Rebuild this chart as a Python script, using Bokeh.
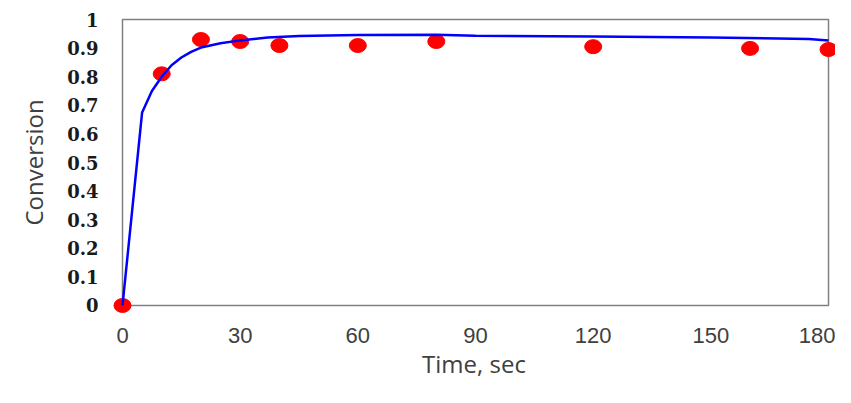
from bokeh.plotting import figure
from bokeh.models import ColumnDataSource, FixedTicker, BoxAnnotation
from bokeh.embed import file_html
from bokeh.resources import INLINE

# Experimental data
time_exp = [0, 10, 20, 30, 40, 60, 80, 120, 160, 180]
conv_exp = [0.0, 0.81, 0.93, 0.923, 0.909, 0.909, 0.923, 0.905, 0.899, 0.895]

# Model curve
time_model = [0, 5, 7.5, 10, 12.5, 15, 17.5, 20, 25, 30, 37, 45, 60, 80, 90, 120, 150, 175, 180]
conv_model = [0.0, 0.675, 0.75, 0.80, 0.84, 0.867, 0.887, 0.902, 0.917, 0.927, 0.937, 0.942,
              0.946, 0.947, 0.943, 0.941, 0.937, 0.932, 0.927]

x_ticks = [0, 30, 60, 90, 120, 150, 180]
y_ticks = [0, 0.1, 0.2, 0.3, 0.4, 0.5, 0.6, 0.7, 0.8, 0.9, 1]
y_tick_labels = {0: "0", 0.1: "0.1", 0.2: "0.2", 0.3: "0.3", 0.4: "0.4", 0.5: "0.5",
                 0.6: "0.6", 0.7: "0.7", 0.8: "0.8", 0.9: "0.9", 1: "1"}

# axis box limits (the drawn frame)
x_min, x_max = 0, 180
y_min, y_max = 0, 1

p = figure(width=835, height=387, x_range=(-2.55, 181.78), y_range=(-0.0315, 1.0315),
           output_backend="svg", toolbar_location=None,
           min_border_left=112, min_border_right=0, min_border_top=10, min_border_bottom=73)

p.xgrid.visible = False
p.ygrid.visible = False
p.outline_line_color = None
p.background_fill_color = "white"
p.border_fill_color = "white"

frame = BoxAnnotation(left=x_min, right=x_max, bottom=y_min, top=y_max,
                      fill_alpha=0, line_color="#808080", line_alpha=1.0, line_width=1.5,
                      level="underlay")
p.add_layout(frame)

src_exp = ColumnDataSource(dict(x=time_exp, y=conv_exp))
src_model = ColumnDataSource(dict(x=time_model, y=conv_model))

p.ellipse(x="x", y="y", width=17, height=14, width_units="screen", height_units="screen",
          fill_color="#ff0000", line_color="#ff0000", source=src_exp)
p.line(x="x", y="y", line_color="#0000ff", line_width=2.5, source=src_model)

p.xaxis.ticker = FixedTicker(ticks=x_ticks)
p.yaxis.ticker = FixedTicker(ticks=y_ticks)
p.yaxis.major_label_overrides = y_tick_labels

for ax in (p.xaxis, p.yaxis):
    ax.axis_line_color = None
    ax.major_tick_line_color = None
    ax.minor_tick_line_color = None
    ax.major_tick_out = 0
    ax.major_tick_in = 0
    ax.minor_tick_out = 0

p.xaxis.major_label_text_font = "Liberation Sans"
p.xaxis.major_label_text_font_size = "22px"
p.xaxis.major_label_text_color = "#404040"
p.xaxis.major_label_standoff = 13
p.xaxis.axis_label = "Time, sec"
p.xaxis.axis_label_text_font = "Open Sans"
p.xaxis.axis_label_text_font_size = "24px"
p.xaxis.axis_label_text_font_style = "normal"
p.xaxis.axis_label_text_color = "#404040"
p.xaxis.axis_label_standoff = 1

p.yaxis.major_label_text_font = "DejaVu Serif"
p.yaxis.major_label_text_font_style = "bold"
p.yaxis.major_label_text_font_size = "18px"
p.yaxis.major_label_text_color = "#1a1a1a"
p.yaxis.major_label_standoff = 14
p.yaxis.axis_label = "Conversion"
p.yaxis.axis_label_text_font = "Open Sans"
p.yaxis.axis_label_text_font_size = "24px"
p.yaxis.axis_label_text_font_style = "normal"
p.yaxis.axis_label_text_color = "#404040"
p.yaxis.axis_label_standoff = 14

open("out.html", "w").write(file_html(p, INLINE))
